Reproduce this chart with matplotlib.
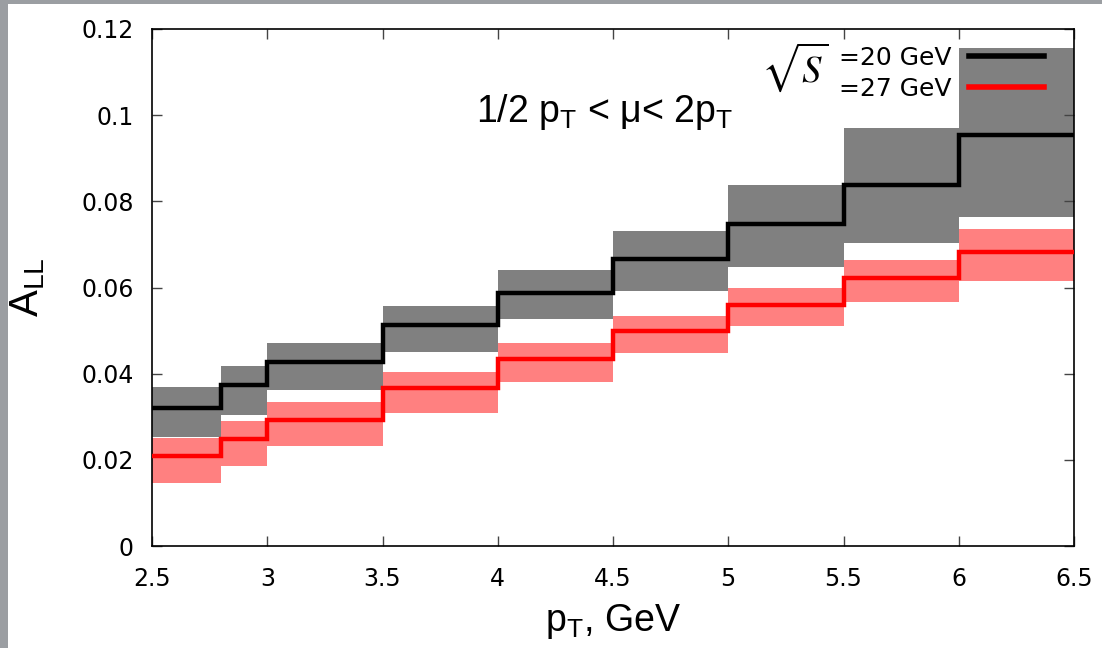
import matplotlib
matplotlib.use("Agg")
import matplotlib.pyplot as plt
from matplotlib.patches import Rectangle
from matplotlib.lines import Line2D
import numpy as np

# bin edges in pT (GeV)
edges = [2.5, 2.8, 3.0, 3.5, 4.0, 4.5, 5.0, 5.5, 6.0, 6.5]

# sqrt(S) = 20 GeV : central value and scale band
all20 = [0.0320, 0.0374, 0.0428, 0.0513, 0.0587, 0.0665, 0.0747, 0.0838, 0.0955]
all20_hi = [0.0369, 0.0418, 0.0471, 0.0557, 0.0641, 0.0732, 0.0838, 0.0971, 0.1155]
all20_lo = [0.0252, 0.0304, 0.0362, 0.0450, 0.0526, 0.0591, 0.0648, 0.0703, 0.0764]

# sqrt(S) = 27 GeV
all27 = [0.0209, 0.0249, 0.0292, 0.0367, 0.0435, 0.0499, 0.0560, 0.0622, 0.0682]
all27_hi = [0.0251, 0.0290, 0.0334, 0.0405, 0.0471, 0.0535, 0.0599, 0.0664, 0.0735]
all27_lo = [0.0146, 0.0186, 0.0232, 0.0308, 0.0381, 0.0448, 0.0511, 0.0566, 0.0615]

plt.rcParams['font.family'] = ['DejaVu Sans']

fig = plt.figure(figsize=(11.02, 6.48), dpi=100, facecolor='#9b9ea2')
fig.patches.append(Rectangle((8/1102, 0), 1, 1 - 4/648, transform=fig.transFigure,
                             facecolor='white', edgecolor='none', zorder=-10))
ax = fig.add_axes([152/1102, 1 - 546/648, 922/1102, 517/648])

ax.stairs(all20_hi, edges, baseline=all20_lo, fill=True, color='#808080', zorder=1)
ax.stairs(all27_hi, edges, baseline=all27_lo, fill=True, color='#ff8080', zorder=2)
ax.stairs(all20, edges, baseline=None, color='black', lw=3.2, zorder=3)
ax.stairs(all27, edges, baseline=None, color='red', lw=3.2, zorder=3)

ax.set_xlim(2.5, 6.5)
ax.set_ylim(0, 0.12)
ax.set_xticks([2.5, 3, 3.5, 4, 4.5, 5, 5.5, 6, 6.5])
ax.set_xticklabels(['2.5', '3', '3.5', '4', '4.5', '5', '5.5', '6', '6.5'])
ax.set_yticks([0, 0.02, 0.04, 0.06, 0.08, 0.1, 0.12])
ax.set_yticklabels(['0', '0.02', '0.04', '0.06', '0.08', '0.1', '0.12'])
ax.tick_params(direction='in', top=True, right=True, length=7, width=1,
               color='#444444', labelsize=17)
ax.tick_params(axis='x', pad=15)
ax.tick_params(axis='y', pad=13)
for s in ax.spines.values():
    s.set_linewidth(1.2)

ax.set_xlabel(r'$\mathregular{p_T}$, GeV', family='Liberation Sans', fontsize=27, labelpad=8)
ax.set_ylabel(r'$\mathregular{A_{LL}}$', family='Liberation Sans', fontsize=29, labelpad=25)

ax.text(0.351, 0.820, r'1/2 $\mathregular{p_T}$ < μ< 2$\mathregular{p_T}$',
        transform=ax.transAxes, family='Liberation Sans', fontsize=27, va='baseline', ha='left')

ax.text(0.661, 0.926, r'$\sqrt{S}$', transform=ax.transAxes, fontsize=28,
        math_fontfamily='stix', va='center', ha='left')

handles = [Line2D([], [], color='black', lw=4), Line2D([], [], color='red', lw=4)]
ax.legend(handles, ['=20 GeV', '=27 GeV'], loc='upper right', bbox_to_anchor=(0.968, 0.968),
          frameon=False, markerfirst=False, fontsize=18, handlelength=3.0,
          handletextpad=0.7, labelspacing=0.28, borderpad=0, borderaxespad=0)

fig.savefig('out.png', dpi=100, facecolor=fig.get_facecolor())
